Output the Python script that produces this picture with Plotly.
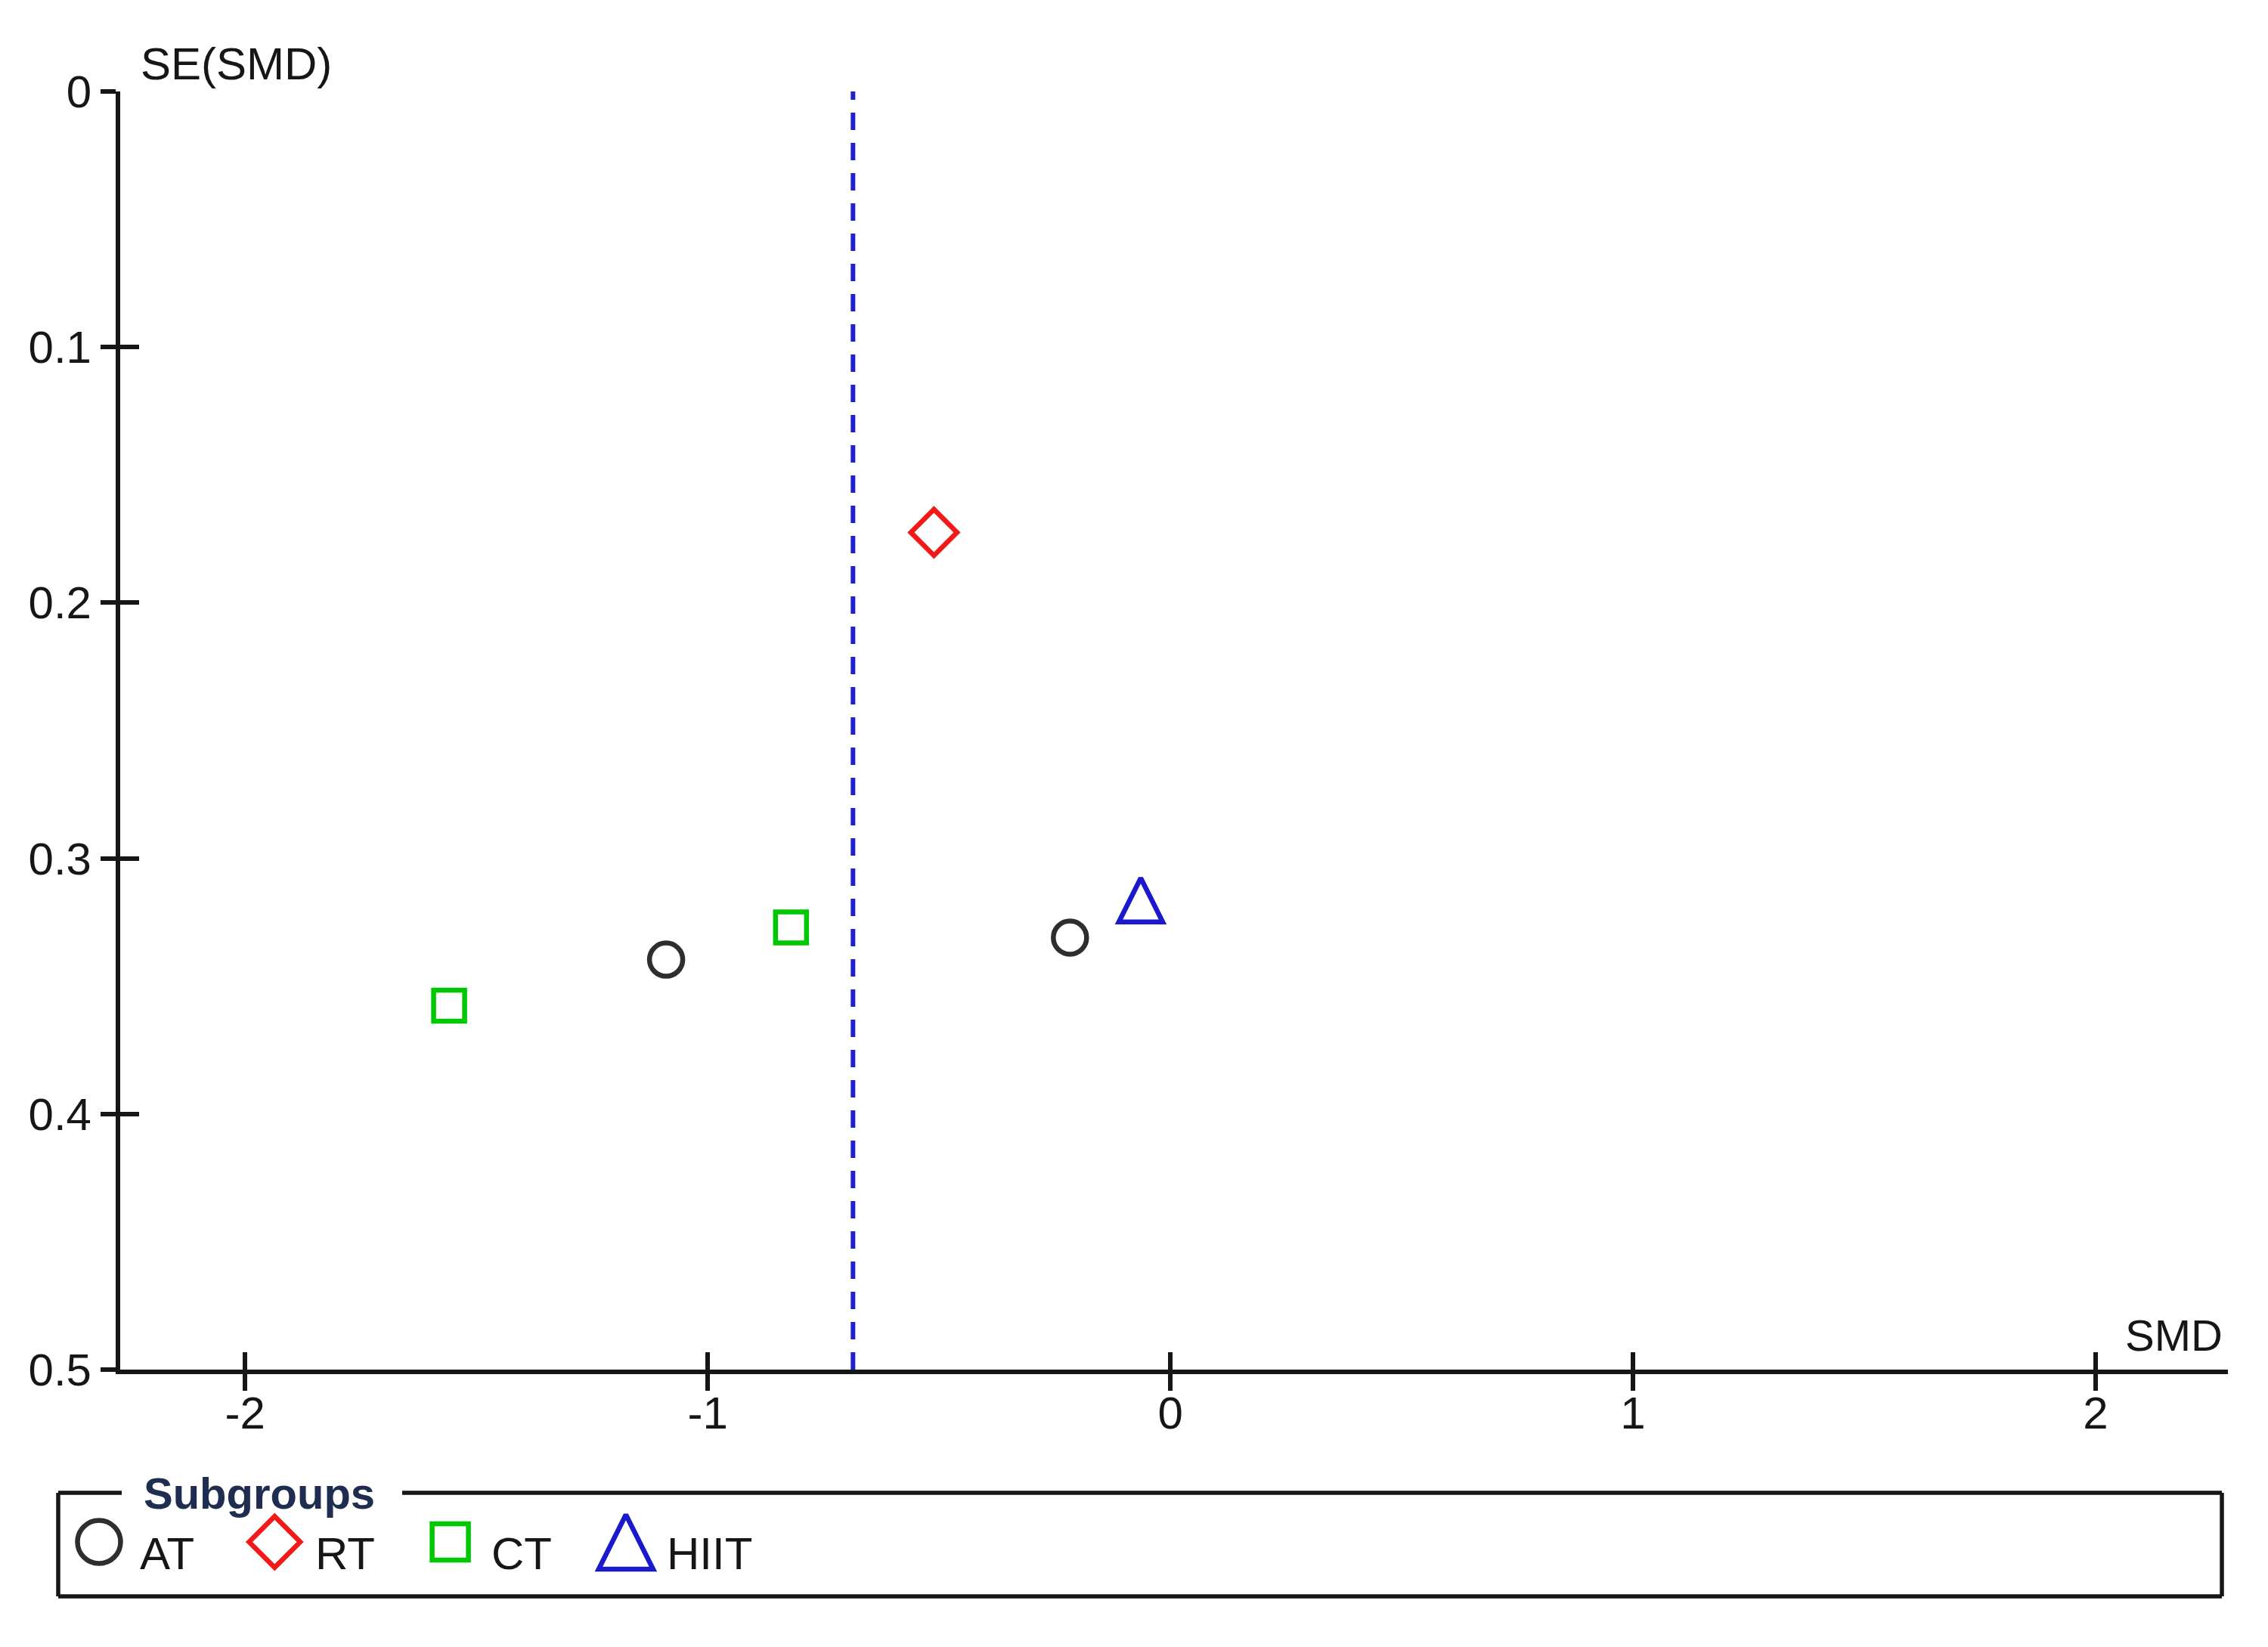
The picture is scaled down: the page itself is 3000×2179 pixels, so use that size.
import plotly.graph_objects as go

# funnel plot data
at_smd = [-1.090, -0.217]
at_se = [0.3396, 0.3310]
rt_smd = [-0.511]
rt_se = [0.1725]
ct_smd = [-1.559, -0.820]
ct_se = [0.3576, 0.3270]
hiit_smd = [-0.064]
hiit_se = [0.3163]
pooled_smd = -0.686

x_ticks = [-2, -1, 0, 1, 2]
x_tick_text = ["-2", "-1", "0", "1", "2"]
y_ticks = [0, 0.1, 0.2, 0.3, 0.4, 0.5]
y_tick_text = ["0", "0.1", "0.2", "0.3", "0.4", "0.5"]

groups = ["AT", "RT", "CT", "HIIT"]

W, H = 3000, 2179
FONT = "Liberation Sans, Arial, sans-serif"
INK = "#161616"

# marker styles per subgroup
colors = {"AT": "#2e2e2e", "RT": "#f01a1a", "CT": "#00c800", "HIIT": "#1a1acc"}
symbols = {"AT": "circle-open", "RT": "diamond-open", "CT": "square-open", "HIIT": "arrow-down-open"}
sizes = {"AT": 44, "RT": 47, "CT": 41, "HIIT": 58}
key_sizes = {"AT": 57, "RT": 52, "CT": 48, "HIIT": 72}
MW = 6.5


def px_x(p):
    return p / W


def px_y(p):
    return 1 - p / H


fig = go.Figure()

series = {
    "AT": (at_smd, at_se),
    "RT": (rt_smd, rt_se),
    "CT": (ct_smd, ct_se),
    "HIIT": (hiit_smd, hiit_se),
}
for g in groups:
    xs, ys = series[g]
    tri = g == "HIIT"
    fig.add_trace(go.Scatter(
        x=xs, y=ys, mode="markers", name=g, showlegend=False,
        marker=dict(
            symbol=symbols[g], size=sizes[g], color=colors[g],
            line=dict(width=MW, color=colors[g]),
            angle=180 if tri else 0, standoff=sizes[g] / 2 if tri else 0,
        ),
        hoverinfo="x+y+name",
    ))

# dummy trace so the overlaid tick axes get drawn
fig.add_trace(go.Scatter(x=[pooled_smd], y=[0], xaxis="x2", yaxis="y2",
                         mode="markers", marker=dict(opacity=0), showlegend=False,
                         hoverinfo="skip"))

# pooled effect line
fig.add_vline(x=pooled_smd, line=dict(color="#2020d0", width=6, dash="23px,17px"))

# hand-made legend keys (pixel space axis over the legend strip)
step = 232.3
key_x = [123 + step * i for i in range(len(groups))]
for g, kx in zip(groups, key_x):
    tri = g == "HIIT"
    fig.add_trace(go.Scatter(
        x=[kx], y=[2032], xaxis="x3", yaxis="y3", mode="markers",
        showlegend=False, hoverinfo="skip",
        marker=dict(
            symbol=symbols[g], size=key_sizes[g], color=colors[g],
            line=dict(width=MW, color=colors[g]),
            angle=180 if tri else 0, standoff=key_sizes[g] / 2 if tri else 0,
        ),
    ))

annotations = [
    dict(text="SE(SMD)", x=px_x(176), y=px_y(76), xref="paper", yref="paper",
         xanchor="left", yanchor="middle", showarrow=False,
         font=dict(family=FONT, size=60, color=INK)),
    dict(text="SMD", x=px_x(2934), y=px_y(1758), xref="paper", yref="paper",
         xanchor="right", yanchor="middle", showarrow=False,
         font=dict(family=FONT, size=58, color=INK)),
    dict(text="<b>Subgroups</b>", x=px_x(180), y=px_y(1967), xref="paper", yref="paper",
         xanchor="left", yanchor="middle", showarrow=False,
         font=dict(family=FONT, size=58, color="#1f2d50")),
]
for g, kx in zip(groups, key_x):
    annotations.append(dict(
        text=g, x=kx + 52, y=2047, xref="x3", yref="y3", xanchor="left", yanchor="middle",
        showarrow=False, font=dict(family=FONT, size=60, color=INK)))

# legend frame with a gap for the title
frame = dict(color=INK, width=5.5)
box_l, box_r, box_t, box_b = 69, 2931, 1967, 2104
shapes = [
    dict(type="line", xref="paper", yref="paper", x0=px_x(box_l), x1=px_x(box_l), y0=px_y(box_t), y1=px_y(box_b), line=frame),
    dict(type="line", xref="paper", yref="paper", x0=px_x(box_r), x1=px_x(box_r), y0=px_y(box_t), y1=px_y(box_b), line=frame),
    dict(type="line", xref="paper", yref="paper", x0=px_x(box_l), x1=px_x(box_r), y0=px_y(box_b), y1=px_y(box_b), line=frame),
    dict(type="line", xref="paper", yref="paper", x0=px_x(box_l), x1=px_x(153), y0=px_y(box_t), y1=px_y(box_t), line=frame),
    dict(type="line", xref="paper", yref="paper", x0=px_x(524), x1=px_x(box_r), y0=px_y(box_t), y1=px_y(box_t), line=frame),
]

x_dom = [px_x(151), px_x(2939)]
y_dom = [px_y(1804), px_y(113)]
x_rng = [-2.27, 2.286]
y_rng = [0.5, 0]
tick_font = dict(family=FONT, size=60, color=INK)
strip_top = 1930

fig.update_layout(
    width=W, height=H,
    margin=dict(l=0, r=0, t=0, b=0),
    paper_bgcolor="white", plot_bgcolor="rgba(0,0,0,0)",
    showlegend=False,
    annotations=annotations,
    shapes=fig.layout.shapes + tuple(shapes),
    xaxis=dict(domain=x_dom, range=x_rng, tickvals=x_ticks, ticktext=x_tick_text,
               ticks="outside", ticklen=22, tickwidth=5.5, tickcolor=INK,
               ticklabelstandoff=-22,
               showline=True, linewidth=6, linecolor=INK, showgrid=False, zeroline=False,
               tickfont=tick_font, anchor="y", automargin=False, fixedrange=True),
    yaxis=dict(domain=y_dom, range=y_rng, tickvals=y_ticks, ticktext=y_tick_text,
               ticks="outside", ticklen=20, tickwidth=5.5, tickcolor=INK,
               ticklabelstandoff=0,
               showline=True, linewidth=6, linecolor=INK, showgrid=False, zeroline=False,
               tickfont=tick_font, anchor="x", automargin=False, fixedrange=True),
    xaxis2=dict(overlaying="x", anchor="y", side="bottom", range=x_rng, tickvals=x_ticks,
                ticks="inside", ticklen=23, tickwidth=5.5, tickcolor=INK,
                showticklabels=False, showline=False, showgrid=False, zeroline=False),
    yaxis2=dict(overlaying="y", anchor="x", side="left", range=y_rng, tickvals=y_ticks,
                ticks="inside", ticklen=25, tickwidth=5.5, tickcolor=INK,
                showticklabels=False, showline=False, showgrid=False, zeroline=False),
    xaxis3=dict(domain=[0, 1], range=[0, W], visible=False, anchor="y3", fixedrange=True),
    yaxis3=dict(domain=[0, px_y(strip_top)], range=[H, strip_top], visible=False,
                anchor="x3", fixedrange=True),
)

fig.write_html("out.html")
